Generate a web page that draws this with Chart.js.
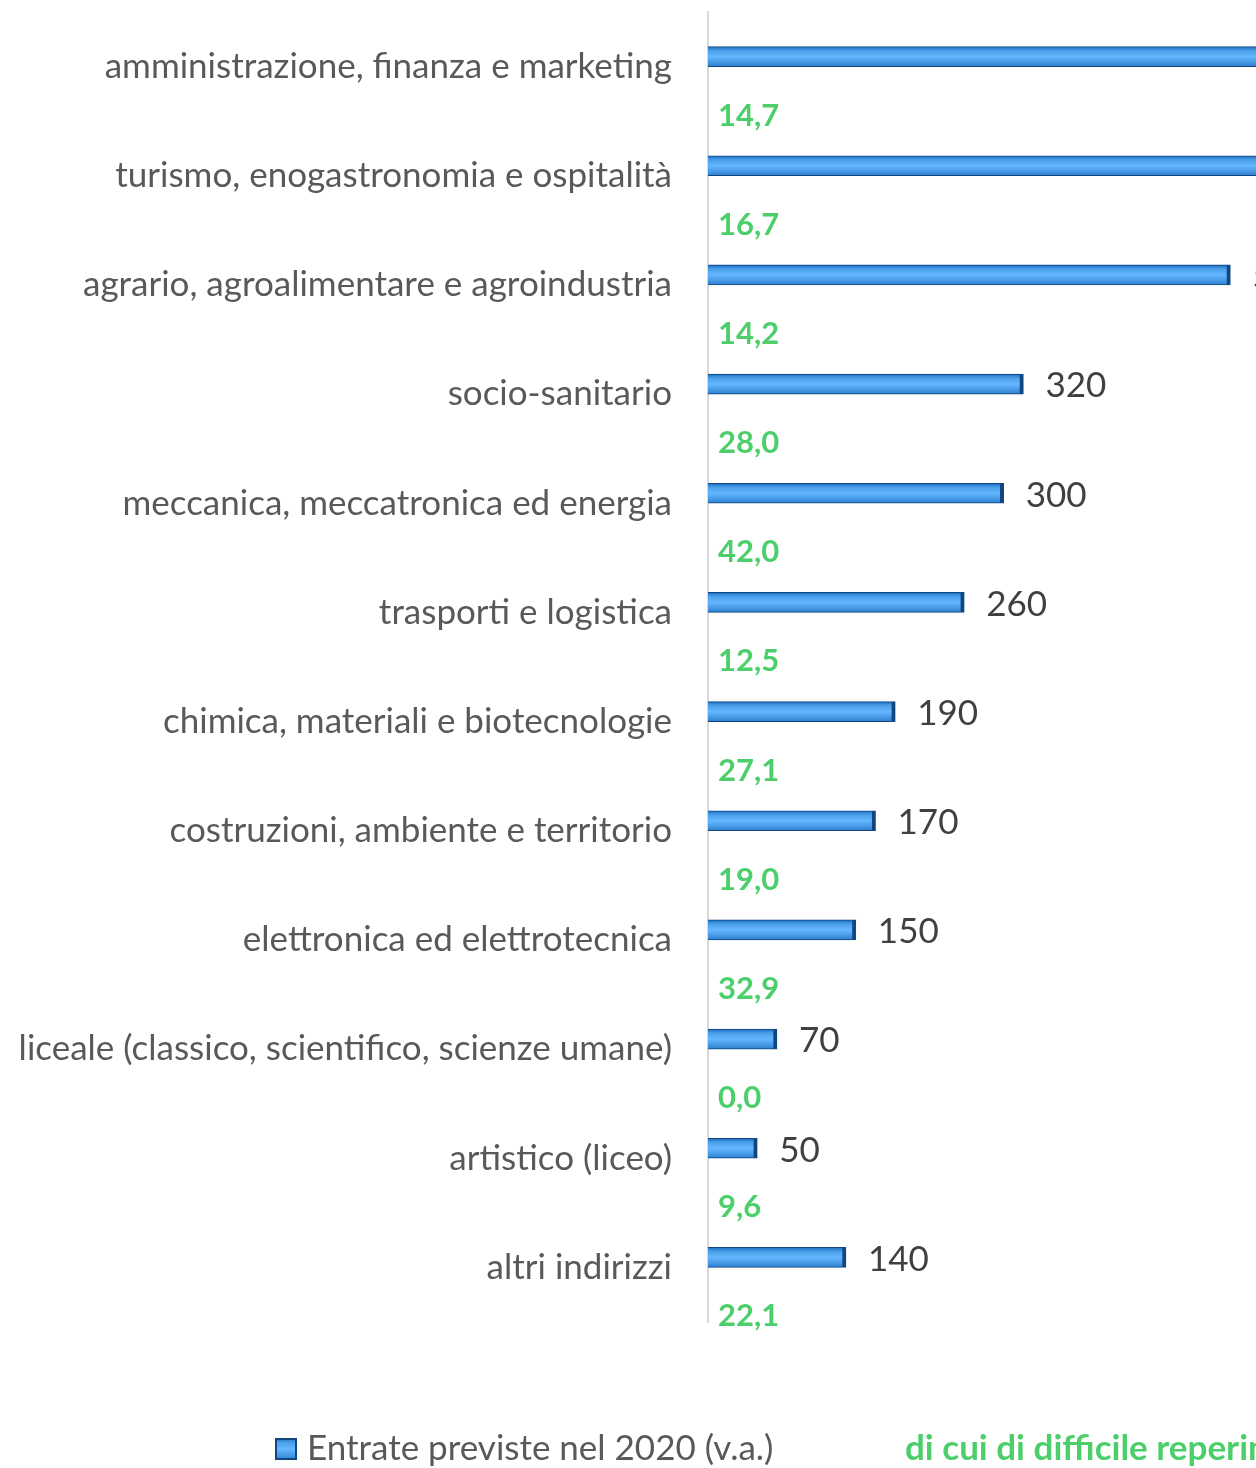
<!DOCTYPE html>
<html>
<head>
<meta charset="utf-8">
<script src="https://cdn.jsdelivr.net/npm/chart.js@4.4.1/dist/chart.umd.min.js"></script>
<style>
  html, body { margin: 0; padding: 0; background: #fff; overflow: hidden; }
  #wrap { width: 1256px; height: 1468px; position: relative; }
</style>
</head>
<body>
<div id="wrap"><canvas id="indirizziChart"></canvas></div>
<script>
const categories = [
    'amministrazione, finanza e marketing',
    'turismo, enogastronomia e ospitalità',
    'agrario, agroalimentare e agroindustria',
    'socio-sanitario',
    'meccanica, meccatronica ed energia',
    'trasporti e logistica',
    'chimica, materiali e biotecnologie',
    'costruzioni, ambiente e territorio',
    'elettronica ed elettrotecnica',
    'liceale (classico, scientifico, scienze umane)',
    'artistico (liceo)',
    'altri indirizzi'
];
const entrate = [820, 640, 530, 320, 300, 260, 190, 170, 150, 70, 50, 140];
const difficili = [14.7, 16.7, 14.2, 28.0, 42.0, 12.5, 27.1, 19.0, 32.9, 0.0, 9.6, 22.1];
const seriesNames = ['Entrate previste nel 2020 (v.a.)', 'di cui di difficile reperimento (%)'];

const GREEN = '#4ccf6b';
const GREY = '#595959';
const FONT = 'Lato, sans-serif';
const BAR = 20;

function barGradient(c, top, h) {
    const g = c.createLinearGradient(0, top, 0, top + h);
    g.addColorStop(0, '#1a6cc2');
    g.addColorStop(0.2, '#4a9fe9');
    g.addColorStop(0.5, '#66b6ff');
    g.addColorStop(0.85, '#3f92df');
    g.addColorStop(1, '#2a7ccb');
    return g;
}

// value labels, green % labels and the legend
const decorations = {
    id: 'decorations',
    afterDatasetsDraw(chart) {
        const c = chart.ctx;
        const area = chart.chartArea;
        c.save();
        c.textBaseline = 'middle';
        c.textAlign = 'left';
        c.fillStyle = '#404040';
        c.font = '35px ' + FONT;
        chart.getDatasetMeta(0).data.forEach((el, i) => {
            c.fillText(String(entrate[i]), el.x + 22, el.y + 2);
        });
        c.fillStyle = GREEN;
        c.font = 'bold 31px ' + FONT;
        chart.getDatasetMeta(1).data.forEach((el, i) => {
            c.fillText(difficili[i].toFixed(1).replace('.', ','), area.left + 10, el.y + 39);
        });
        c.restore();
    },
    afterDraw(chart) {
        const c = chart.ctx;
        const y = chart.chartArea.bottom + 127;
        let x = 275;
        c.save();
        c.fillStyle = barGradient(c, y - 11, 22);
        c.fillRect(x, y - 11, 22, 22);
        c.strokeStyle = '#12467f';
        c.lineWidth = 2;
        c.strokeRect(x + 1, y - 10, 20, 20);
        c.textBaseline = 'middle';
        c.textAlign = 'left';
        c.fillStyle = GREY;
        c.font = '35px ' + FONT;
        c.fillText(seriesNames[0], x + 32, y);
        c.fillStyle = GREEN;
        c.font = 'bold 35px ' + FONT;
        c.fillText(seriesNames[1], 905, y);
        c.restore();
    }
};

const ctx = document.getElementById('indirizziChart').getContext('2d');

new Chart(ctx, {
    type: 'bar',
    data: {
        labels: categories,
        datasets: [{
            label: seriesNames[0],
            data: entrate,
            xAxisID: 'x',
            barThickness: BAR,
            backgroundColor: (c) => {
                const ys = c.chart.scales.y;
                if (!ys || c.dataIndex === undefined) return '#5aacf2';
                const mid = ys.getPixelForValue(c.dataIndex) - BAR / 2;
                if (!Number.isFinite(mid)) return '#5aacf2';
                return barGradient(c.chart.ctx, mid - BAR / 2, BAR);
            },
            borderColor: '#12467f',
            borderWidth: { top: 1, bottom: 1, left: 0, right: 4 },
            borderSkipped: false
        }, {
            label: seriesNames[1],
            data: difficili,
            xAxisID: 'x2',
            barThickness: BAR,
            backgroundColor: 'rgba(0,0,0,0)'
        }]
    },
    options: {
        indexAxis: 'y',
        responsive: true,
        maintainAspectRatio: false,
        animation: false,
        layout: { padding: { top: 12, bottom: 146, left: 0, right: 0 } },
        plugins: {
            legend: { display: false },
            tooltip: { enabled: false }
        },
        scales: {
            x: { display: false, min: 0, max: 556 },
            x2: { display: false, min: 0, max: 100 },
            y: {
                grid: { display: false, drawTicks: false },
                border: { display: true, color: '#d9d9d9', width: 2 },
                ticks: {
                    color: GREY,
                    padding: 36,
                    font: { family: FONT, size: 35 }
                },
                afterFit(scale) {
                    scale.width = 708;
                    scale.paddingTop = 0;
                    scale.paddingBottom = 0;
                }
            }
        }
    },
    plugins: [decorations]
});
</script>
</body>
</html>
